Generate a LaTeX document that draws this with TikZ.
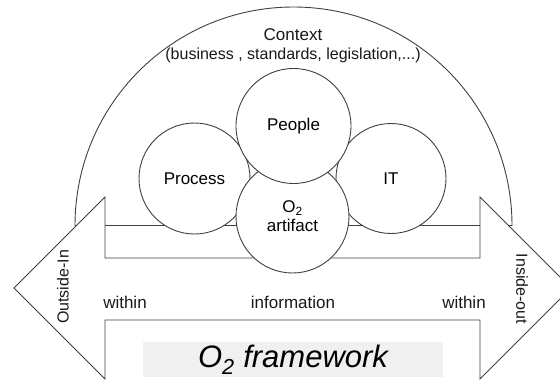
\documentclass[tikz,border=0pt]{standalone}
\usepackage{fontspec}
\setmainfont{Liberation Sans}
\usepackage{tikz}
\usetikzlibrary{arrows.meta}
\usetikzlibrary{calc}

\begin{document}
\begin{tikzpicture}[x=1pt,y=-1pt,
		outline/.style={draw=black!75,line width=0.9pt,fill=white},
		bubble/.style={circle,outline,inner sep=0pt,align=center,font=\fontsize{17}{19}\selectfont},
		lbl/.style={text=black!90,inner sep=0pt,font=\fontsize{17}{19}\selectfont}]
			\useasboundingbox (0,0) rectangle (560,380);
			% context half disc
			\coordinate (c0) at (293.5,225.5);
			\draw [outline] ($(c0)+(-218.5,0)$) arc [start angle=180,end angle=0,radius=218.5pt] -- cycle;
			\node [lbl] (context) at (293,35) {Context};
			\node [lbl,font=\fontsize{16}{18}\selectfont] (scope) at (293,55) {(business , standards, legislation,...)};
			% double arrow
			\draw [outline] (105,258) -- (480,258) -- (480,197) -- (571,288) -- (480,379) -- (480,320)
				-- (105,320) -- (105,379) -- (14,288) -- (105,197) -- cycle;
			\node [lbl,rotate=90,font=\fontsize{16}{18}\selectfont] (outin) at (63,287) {Outside-In};
			\node [lbl,rotate=-90,font=\fontsize{16}{18}\selectfont] (inout) at (522,289) {Inside-out};
			\node [lbl] (within1) at (125,302) {within};
			\node [lbl] (info) at (293,302) {information};
			\node [lbl] (within2) at (464,302) {within};
			% circles
			\node [bubble,minimum size=111pt] (process) at (194.5,178.5) {Process};
			\node [bubble,minimum size=110pt] (it) at (391,178.5) {IT};
			\node [bubble,minimum size=113pt] (artifact) at (292.5,216.5) {O\textsubscript{2}\\artifact};
			\node [bubble,minimum size=115pt] (people) at (293.5,126) {People};
			% title
			\node [fill=gray!12,minimum width=300pt,minimum height=35pt,inner sep=0pt,
				font=\fontsize{31}{33}\selectfont\itshape] (title) at (293,359.5) {O\textsubscript{2} framework};
		\end{tikzpicture}
\end{document}
